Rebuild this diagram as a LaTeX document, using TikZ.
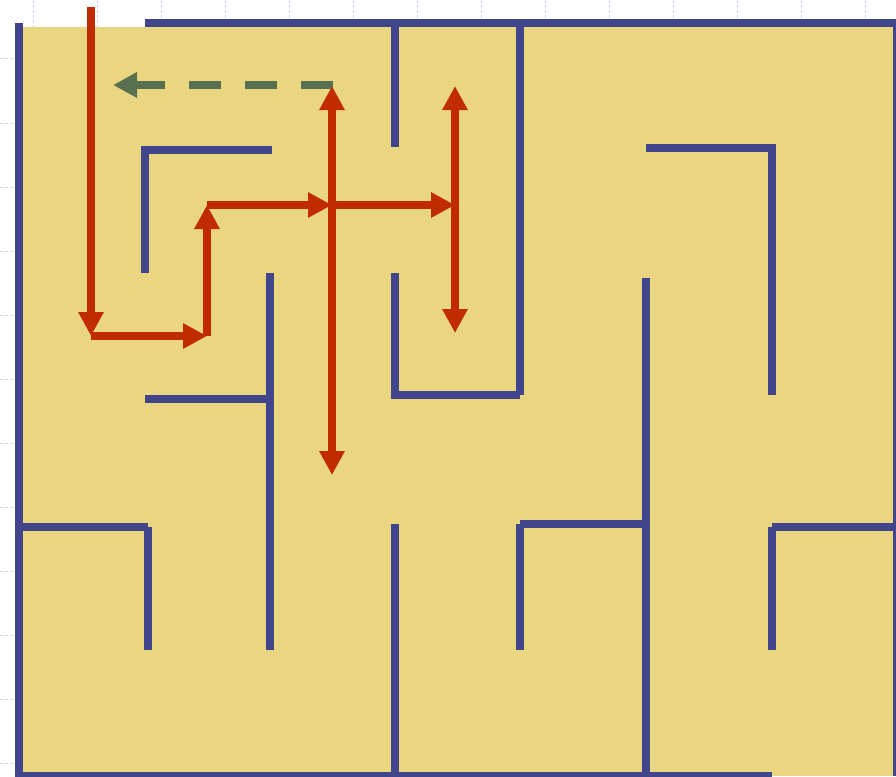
\documentclass[tikz,border=0pt]{standalone}
\usetikzlibrary{arrows.meta}
\definecolor{wallblue}{RGB}{65,70,140}
\definecolor{mazeyellow}{RGB}{234,214,128}
\definecolor{pathred}{RGB}{192,43,0}
\definecolor{backgreen}{RGB}{88,112,80}
\definecolor{gridblue}{RGB}{205,212,245}
\begin{document}
\begin{tikzpicture}[x=1pt,y=-1pt,
  wall/.style={wallblue,line width=8pt},
  gridline/.style={gridblue,line width=1pt,dash pattern=on 3pt off 2pt},
  redpath/.style={pathred,line width=8pt,-{Triangle[length=24pt,width=24pt]}},
  redboth/.style={pathred,line width=8pt,{Triangle[length=24pt,width=24pt]}-{Triangle[length=24pt,width=24pt]}},
  backtrack/.style={backgreen,line width=8pt,dash pattern=on 32pt off 24pt,-{Triangle[length=24pt,width=24pt]}}]
\useasboundingbox (0,0) rectangle (896,776);
% faint grid of the slide
\foreach \x in {33,97,...,865} \draw[gridline] (\x,0) -- (\x,776);
\foreach \y in {59,123,...,763} \draw[gridline] (0,\y) -- (896,\y);
% maze floor
\fill[mazeyellow] (19,27) rectangle (896,776);
% outer walls
\draw[wall] (145,23) -- (901,23);
\draw[wall] (19,23) -- (19,776);
\draw[wall] (15,776) -- (772,776);
\draw[wall] (897,23) -- (897,776);
% inner walls
\draw[wall] (395,23) -- (395,147);
\draw[wall] (520,23) -- (520,395);
\draw[wall] (145,150) -- (272,150);
\draw[wall] (145,146) -- (145,273);
\draw[wall] (646,148) -- (772,148);
\draw[wall] (772,144) -- (772,395);
\draw[wall] (270,273) -- (270,650);
\draw[wall] (145,399) -- (270,399);
\draw[wall] (395,273) -- (395,399);
\draw[wall] (395,395) -- (520,395);
\draw[wall] (646,278) -- (646,776);
\draw[wall] (19,527) -- (148,527);
\draw[wall] (148,527) -- (148,650);
\draw[wall] (395,524) -- (395,776);
\draw[wall] (520,524) -- (646,524);
\draw[wall] (520,524) -- (520,650);
\draw[wall] (772,527) -- (896,527);
\draw[wall] (772,527) -- (772,650);
% path coordinates
\coordinate (start) at (91,7);
\coordinate (p1) at (91,336);
\coordinate (p2) at (207,336);
\coordinate (p3) at (207,205);
\coordinate (p4) at (332,205);
\coordinate (p5) at (455,205);
\coordinate (up1) at (332,86);
\coordinate (dn1) at (332,475);
\coordinate (up2) at (455,86);
\coordinate (dn2) at (455,333);
\coordinate (back) at (113,85);
\coordinate (backstart) at (333,85);
% backtracking arrow
\draw[backtrack] (backstart) -- (back);
% search path
\draw[redpath] (start) -- (p1);
\draw[redpath] (p1) -- (p2);
\draw[redpath] (p2) -- (p3);
\draw[redboth] (up1) -- (dn1);
\draw[redboth] (up2) -- (dn2);
\draw[redpath] (p3) -- (p4);
\draw[redpath] (p4) -- (p5);
\end{tikzpicture}
\end{document}
